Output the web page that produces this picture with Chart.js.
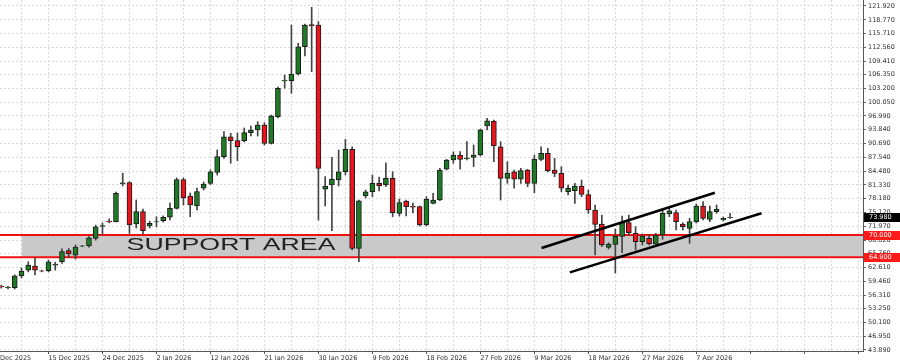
<!DOCTYPE html>
<html>
<head>
<meta charset="utf-8">
<script src="https://cdn.jsdelivr.net/npm/chart.js@4/dist/chart.umd.min.js"></script>
<style>
  html, body { margin: 0; padding: 0; background: #fff; }
  #wrap { width: 900px; height: 360px; }
</style>
</head>
<body>
<div id="wrap"><canvas id="chart" width="900" height="360"></canvas></div>
<script>
// bougies quotidiennes, la premiere bougie est a l'index 1
const firstBar = 1;
const opens  = [58.3,58.0,58.0,60.7,62.0,62.9,61.85,61.85,63.1,63.9,66.4,65.4,67.4,67.5,69.2,71.9,73.1,72.98,81.6,81.83,
  72.46,75.25,72.0,72.9,73.2,73.98,76.0,82.55,78.81,76.54,80.56,81.69,84.14,87.73,92.26,91.36,91.36,93.17,93.78,94.92,
  90.76,96.80,104.9,104.97,106.49,112.68,117.7,117.61,80.33,81.31,82.44,84.32,89.40,66.94,78.81,79.78,81.69,81.31,82.82,74.88,
  77.67,76.45,76.38,72.23,77.15,77.90,84.87,86.98,88.11,87.30,87.59,88.11,94.69,95.82,89.99,82.82,84.32,82.60,84.71,81.69,
  87.13,88.50,84.71,83.96,79.78,80.01,81.08,79.15,75.63,72.46,67.17,67.8,69.66,72.75,70.34,68.44,69.21,67.92,69.96,74.72,
  75.02,72.46,71.48,72.98,76.54,73.52,75.25,73.36,73.9];
const highs  = [58.6,58.3,60.9,62.5,63.9,64.7,62.0,64.3,63.8,66.8,66.9,67.7,67.6,69.6,72.2,72.7,73.6,79.7,84.0,82.05,
  77.9,75.85,73.1,74.1,74.3,77.2,82.9,82.9,79.49,80.62,81.98,84.71,89.25,93.40,93.03,93.10,94.24,94.69,95.67,95.44,
  97.19,103.54,106.26,117.61,113.46,117.8,121.62,118.36,83.19,87.59,89.25,91.67,89.99,77.90,80.17,83.57,83.12,86.36,84.32,78.13,
  77.90,77.22,76.54,78.65,79.42,85.09,87.13,88.86,88.86,91.13,90.38,94.0,96.44,96.05,91.13,86.59,84.71,85.09,84.87,88.11,
  89.99,89.63,87.36,85.46,81.31,81.69,82.44,80.17,76.77,74.50,68.2,71.32,74.27,74.50,71.84,70.19,69.96,70.34,75.79,76.02,
  75.63,72.75,73.75,77.0,77.52,76.54,76.77,74.05,74.88];
const lows   = [57.9,57.7,57.7,60.2,61.6,60.9,61.6,61.6,62.0,63.5,64.9,64.5,67.3,67.2,68.8,70.0,72.7,72.9,81.1,70.34,
  71.55,70.19,71.55,71.8,72.9,73.36,75.85,76.77,74.11,75.63,80.17,81.42,83.57,87.36,86.23,86.82,91.06,92.42,92.42,90.38,
  90.61,96.5,103.25,102.11,106.26,110.57,107.01,73.36,76.54,70.93,81.08,83.57,66.55,63.90,78.35,78.65,79.94,80.92,74.11,74.27,
  74.27,74.95,72.0,72.0,76.99,77.74,84.71,86.23,84.87,86.98,85.46,87.88,93.78,86.59,77.90,81.69,80.56,81.69,80.92,79.55,
  86.82,84.25,83.19,79.78,79.03,77.15,78.65,74.88,65.42,67.31,66.78,61.34,65.94,69.96,66.55,67.69,67.69,67.69,68.98,74.11,
  71.09,71.09,68.07,72.68,73.36,72.98,74.88,73.14,73.75];
const closes = [58.2,58.1,60.7,61.8,63.15,62.0,61.75,63.9,63.3,66.2,65.65,67.2,67.5,69.3,71.8,72.1,72.9,79.4,81.8,72.23,
  75.25,70.93,72.6,73.0,73.98,76.0,82.55,78.4,76.77,79.83,81.53,84.32,87.77,92.26,91.36,89.99,93.17,93.78,94.92,90.76,
  96.96,103.25,105.05,106.49,112.68,117.61,117.4,85.09,81.08,82.60,84.32,89.40,66.94,77.74,79.78,81.69,81.15,82.82,75.02,77.29,
  76.38,76.3,72.23,78.06,77.90,84.71,86.98,88.11,87.13,87.40,88.11,93.85,95.89,90.15,82.82,83.96,82.60,84.55,81.69,87.13,
  88.50,84.55,83.96,80.56,80.56,81.08,79.15,75.63,72.35,67.69,67.92,69.66,72.84,70.48,68.44,69.73,67.92,69.96,74.88,75.47,
  72.98,71.84,72.98,76.54,73.75,75.25,75.79,73.75,73.98];

// axe des prix (graduations MT4)
const priceTicks = [121.920,118.770,115.710,112.560,109.410,106.350,103.200,100.050,96.990,93.840,90.690,87.540,84.480,
  81.330,78.180,75.120,71.970,68.820,65.760,62.610,59.460,56.310,53.250,50.100,46.950,43.890];
// une etiquette de date toutes les 8 bougies, a partir de l'index 8 (la premiere est coupee)
const firstDateLabel = 'Dec 2025';
const dateLabels = ['6 Dec 2025','15 Dec 2025','24 Dec 2025','2 Jan 2026','12 Jan 2026','21 Jan 2026','30 Jan 2026',
  '9 Feb 2026','18 Feb 2026','27 Feb 2026','9 Mar 2026','18 Mar 2026','27 Mar 2026','7 Apr 2026'];

// zone de support et canal
const supportTop = 69.96;
const supportBottom = 64.90;
const supportStart = 4;
const upperChannel = [{x: 81.07, y: 67.01}, {x: 106.74, y: 79.56}];
const lowerChannel = [{x: 85.26, y: 61.47}, {x: 113.66, y: 74.88}];
const priceBoxes = [
  {value: 73.98, text: '73.980', bg: '#000'},
  {value: supportTop, text: '70.000', bg: '#ff1a1a'},
  {value: supportBottom, text: '64.900', bg: '#ff1a1a'}
];

const xMin = 0.815, xMax = 128.7;
const yMin = 43.64, yMax = 123.28;
const GREEN = '#1f7a25', RED = '#e8161c';

const wickData = highs.map((h, k) => ({x: firstBar + k, y: [lows[k], h]}));
const bodyData = opens.map((o, k) => ({x: firstBar + k, y: [o, closes[k]]}));
const bodyColors = opens.map((o, k) => closes[k] >= o ? GREEN : RED);

const flat = (v, from) => [{x: from, y: v}, {x: xMax, y: v}];

const overlayPlugin = {
  id: 'overlay',
  afterDatasetsDraw(chart) {
    const ctx = chart.ctx, xs = chart.scales.x, ys = chart.scales.y;
    ctx.save();
    ctx.translate(xs.getPixelForValue(35.05), ys.getPixelForValue(67.65));
    ctx.scale(1.62, 1);
    ctx.font = '16.5px "Liberation Sans", Arial, sans-serif';
    ctx.fillStyle = '#222';
    ctx.textAlign = 'center';
    ctx.textBaseline = 'middle';
    ctx.fillText('SUPPORT AREA', 0, 0);
    ctx.restore();
  },
  afterDraw(chart) {
    const ctx = chart.ctx, ys = chart.scales.y, right = chart.chartArea.right;
    ctx.save();
    ctx.font = '6.5px "DejaVu Sans", sans-serif';
    ctx.textBaseline = 'middle';
    priceBoxes.forEach(b => {
      const y = Math.round(ys.getPixelForValue(b.value));
      ctx.fillStyle = b.bg;
      ctx.fillRect(right + 1, y - 4, 36, 9);
      ctx.fillStyle = '#fff';
      ctx.fillText(b.text, right + 6, y + 0.5);
    });
    ctx.restore();
  }
};

new Chart(document.getElementById('chart').getContext('2d'), {
  type: 'bar',
  data: {
    datasets: [
      { type: 'line', data: flat(supportTop, supportStart), borderWidth: 0, pointRadius: 0, fill: false, order: 10 },
      { type: 'line', data: flat(supportBottom, supportStart), borderWidth: 0, pointRadius: 0,
        fill: '-1', backgroundColor: '#c9c9c9', order: 9 },
      { type: 'line', data: flat(supportTop, xMin), borderColor: '#f01010', borderWidth: 2, pointRadius: 0, order: 8 },
      { type: 'line', data: flat(supportBottom, xMin), borderColor: '#f01010', borderWidth: 2, pointRadius: 0, order: 8 },
      { data: wickData, backgroundColor: '#444', barThickness: 1, grouped: false, order: 3 },
      { data: bodyData, backgroundColor: bodyColors, borderColor: '#1a1a1a', borderWidth: 1,
        borderSkipped: false, barThickness: 5, grouped: false, order: 2 },
      { type: 'line', data: upperChannel, borderColor: '#000', borderWidth: 2.5, pointRadius: 0, order: 0 },
      { type: 'line', data: lowerChannel, borderColor: '#000', borderWidth: 2.5, pointRadius: 0, order: 0 }
    ]
  },
  options: {
    responsive: false,
    animation: false,
    layout: { padding: 0 },
    plugins: { legend: { display: false }, tooltip: { enabled: false } },
    scales: {
      x: {
        type: 'linear',
        min: xMin,
        max: xMax,
        offset: false,
        grid: {
          offset: false,
          color: c => (c.tick && c.tick.value % 4 === 0) ? '#dadada' : 'rgba(0,0,0,0)',
          tickColor: c => (c.tick && c.tick.value % 8 === 0) ? '#555' : 'rgba(0,0,0,0)',
          tickLength: 3
        },
        border: { color: '#555', width: 1, dash: [2, 2] },
        afterBuildTicks: s => {
          const t = [{value: xMin}];
          for (let v = 4; v <= 128; v += 4) t.push({value: v});
          s.ticks = t;
        },
        afterFit: s => { s.height = 9; s.paddingLeft = 0; s.paddingRight = 0; },
        ticks: {
          autoSkip: false,
          maxRotation: 0,
          align: 'start',
          padding: 0,
          color: '#333',
          font: { family: 'DejaVu Sans', size: 6.5 },
          callback: v => {
            if (v === xMin) return firstDateLabel;
            return (v % 8 === 0 && dateLabels[v / 8]) ? dateLabels[v / 8] : '';
          }
        }
      },
      y: {
        position: 'right',
        min: yMin,
        max: yMax,
        grid: { color: '#dadada', tickColor: '#666', tickLength: 3 },
        border: { color: '#555', width: 1, dash: [2, 2] },
        afterBuildTicks: s => { s.ticks = priceTicks.map(v => ({value: v})); },
        afterFit: s => { s.width = 37; s.paddingTop = 0; s.paddingBottom = 0; },
        ticks: {
          padding: 2,
          color: '#333',
          font: { family: 'DejaVu Sans', size: 6.5 },
          callback: v => v.toFixed(3)
        }
      }
    }
  },
  plugins: [overlayPlugin]
});
</script>
</body>
</html>
